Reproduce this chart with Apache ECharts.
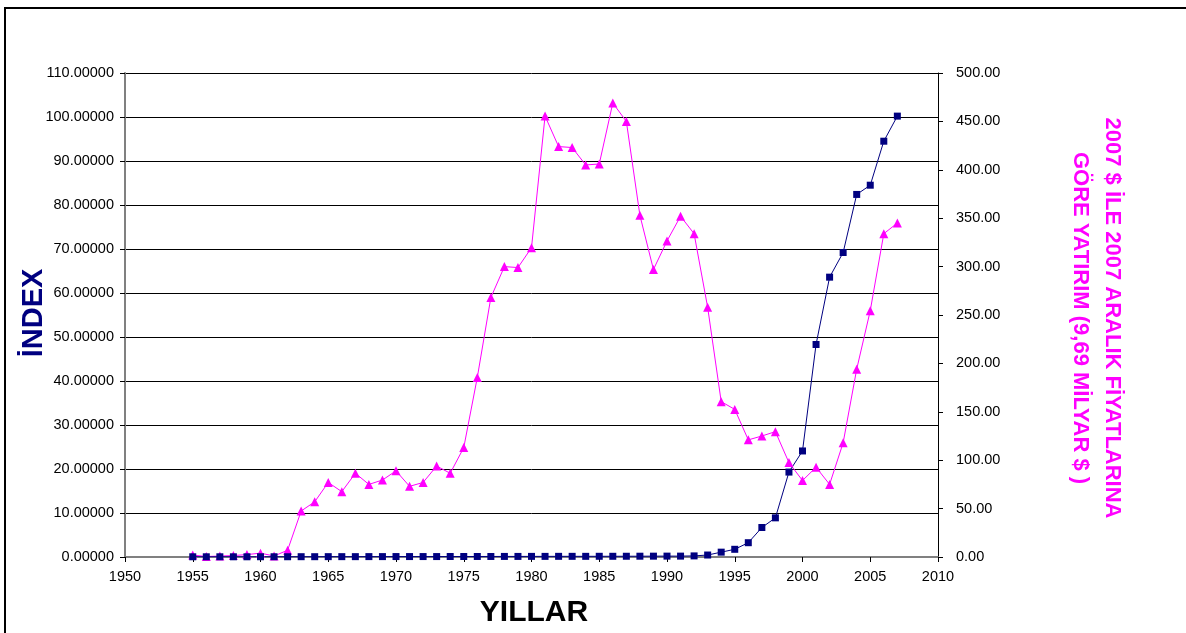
<!DOCTYPE html>
<html>
<head>
<meta charset="utf-8">
<script src="https://cdn.jsdelivr.net/npm/echarts@6/dist/echarts.min.js"></script>
<style>
  html, body { margin: 0; padding: 0; background: #fff; }
  #chart { width: 1186px; height: 633px; }
</style>
</head>
<body>
<div id="chart"></div>
<script>
// years on the x axis
const years = [
  1955, 1956, 1957, 1958, 1959, 1960, 1961, 1962, 1963, 1964,
  1965, 1966, 1967, 1968, 1969, 1970, 1971, 1972, 1973, 1974,
  1975, 1976, 1977, 1978, 1979, 1980, 1981, 1982, 1983, 1984,
  1985, 1986, 1987, 1988, 1989, 1990, 1991, 1992, 1993, 1994,
  1995, 1996, 1997, 1998, 1999, 2000, 2001, 2002, 2003, 2004,
  2005, 2006, 2007
];

// index (left axis, navy squares)
const indexValues = [
  0.05, 0.05, 0.05, 0.05, 0.05, 0.06, 0.06, 0.06, 0.07, 0.07,
  0.08, 0.08, 0.08, 0.09, 0.09, 0.1, 0.1, 0.1, 0.1, 0.11,
  0.11, 0.12, 0.12, 0.13, 0.13, 0.14, 0.14, 0.15, 0.15, 0.15,
  0.16, 0.16, 0.17, 0.18, 0.19, 0.2, 0.2, 0.25, 0.45, 1.1,
  1.75, 3.25, 6.7, 8.9, 19.3, 24.1, 48.3, 63.6, 69.2, 82.4,
  84.5, 94.5, 100.2
];

// investment at 2007 prices (right axis, magenta triangles)
const investValues = [
  2, 0.5, 1, 1.5, 2.5, 4, 1, 7, 47.5, 57,
  77, 67.5, 86.5, 75, 79.5, 89, 73, 77, 94, 86.5,
  113, 185.5, 268, 300, 299, 319.5, 455.5, 424, 423, 405,
  406, 469, 450, 353, 297, 326.5, 352, 334, 258, 160.5,
  152.5, 121, 125, 129.5, 97.5, 79, 92.7, 75, 118, 194,
  254.5, 334, 345
];

const leftTicks = { min: 0, max: 110, step: 10 };
const rightTicks = { min: 0, max: 500, step: 50 };
const xTicks = { min: 1950, max: 2010, step: 5 };

const chart = echarts.init(document.getElementById('chart'));
const font = 'Liberation Sans, Arial, sans-serif';

chart.setOption({
  animation: false,
  backgroundColor: '#fff',
  grid: { left: 125, right: 248, top: 73, bottom: 76 },
  xAxis: {
    type: 'value',
    min: xTicks.min, max: xTicks.max, interval: xTicks.step,
    axisLine: { onZero: false, lineStyle: { color: '#808080', width: 2 } },
    axisTick: { show: true, inside: false, length: 5, lineStyle: { color: '#000' } },
    axisLabel: {
      color: '#000', fontSize: 14.5, fontFamily: font, margin: 12,
      formatter: v => String(v)
    },
    splitLine: { show: false }
  },
  yAxis: [
    {
      type: 'value',
      min: leftTicks.min, max: leftTicks.max, interval: leftTicks.step,
      axisLine: { show: true, lineStyle: { color: '#808080', width: 2 } },
      axisTick: { show: true, inside: false, length: 5, lineStyle: { color: '#000' } },
      axisLabel: {
        color: '#000', fontSize: 14.5, fontFamily: font, margin: 11,
        formatter: v => v.toFixed(5)
      },
      splitLine: { show: true, lineStyle: { color: '#000', width: 1 } }
    },
    {
      type: 'value',
      position: 'right',
      min: rightTicks.min, max: rightTicks.max, interval: rightTicks.step,
      axisLine: { show: true, lineStyle: { color: '#000', width: 1 } },
      axisTick: { show: true, inside: false, length: 5, lineStyle: { color: '#000' } },
      axisLabel: {
        color: '#000', fontSize: 14.5, fontFamily: font, margin: 18,
        formatter: v => v.toFixed(2)
      },
      splitLine: { show: false }
    }
  ],
  series: [
    {
      name: 'invest',
      type: 'line',
      yAxisIndex: 1,
      data: years.map((y, i) => [y, investValues[i]]),
      symbol: 'triangle',
      symbolSize: 9,
      lineStyle: { color: '#ff00ff', width: 1 },
      itemStyle: { color: '#ff00ff' }
    },
    {
      name: 'index',
      type: 'line',
      yAxisIndex: 0,
      data: years.map((y, i) => [y, indexValues[i]]),
      symbol: 'rect',
      symbolSize: 7,
      lineStyle: { color: '#000080', width: 1 },
      itemStyle: { color: '#000080' }
    }
  ],
  graphic: [
    {
      type: 'rect',
      shape: { x: 5, y: 8, width: 1300, height: 700 },
      style: { fill: 'none', stroke: '#000', lineWidth: 2 },
      silent: true
    },
    {
      type: 'text',
      x: 34, y: 313,
      rotation: Math.PI / 2,
      style: {
        text: 'İNDEX',
        fill: '#000080',
        font: 'bold 29px ' + font,
        align: 'center',
        verticalAlign: 'middle'
      }
    },
    {
      type: 'text',
      x: 534, y: 613,
      style: {
        text: 'YILLAR',
        fill: '#000',
        font: 'bold 30px ' + font,
        align: 'center',
        verticalAlign: 'middle'
      }
    },
    {
      type: 'text',
      x: 1096, y: 318,
      rotation: -Math.PI / 2,
      style: {
        text: '2007 $ İLE 2007 ARALIK FİYATLARINA\nGÖRE YATIRIM (9,69 MİLYAR $ )',
        fill: '#ff00ff',
        font: 'bold 22px ' + font,
        lineHeight: 32,
        align: 'center',
        verticalAlign: 'middle'
      }
    }
  ]
});
</script>
</body>
</html>
